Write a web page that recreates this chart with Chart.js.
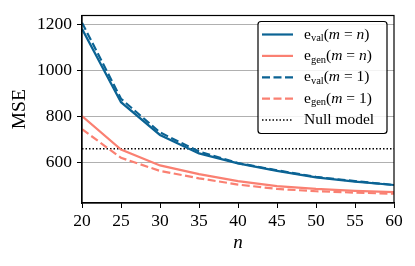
<!DOCTYPE html>
<html>
<head>
<meta charset="utf-8">
<script src="https://cdn.jsdelivr.net/npm/chart.js@4"></script>
<style>
  html, body { margin: 0; padding: 0; background: #fff; }
  #wrap { width: 415px; height: 266px; }
</style>
</head>
<body>
<div id="wrap"><canvas id="mseChart" width="415" height="266"></canvas></div>
<script>
// values
const nValues = [20, 25, 30, 35, 40, 45, 50, 55, 60];
const evalFull = [1180, 862, 720, 640, 597, 564, 536, 518, 503];
const egenFull = [802, 657, 588, 550, 520, 498, 486, 478, 472];
const evalOne = [1207, 877, 731, 648, 598, 567, 538, 520, 503];
const egenOne = [745, 621, 564, 532, 505, 486, 476, 470, 465];
const nullModel = 660;

const xTicks = [20, 25, 30, 35, 40, 45, 50, 55, 60];
const yTicks = [600, 800, 1000, 1200];

// legend labels: [text, kind] where kind is '' (roman), 'i' (italic), 's' (subscript)
const legendParts = [
    [['e', ''], ['val', 's'], ['(', ''], ['m', 'i'], [' = ', ''], ['n', 'i'], [')', '']],
    [['e', ''], ['gen', 's'], ['(', ''], ['m', 'i'], [' = ', ''], ['n', 'i'], [')', '']],
    [['e', ''], ['val', 's'], ['(', ''], ['m', 'i'], [' = 1)', '']],
    [['e', ''], ['gen', 's'], ['(', ''], ['m', 'i'], [' = 1)', '']],
    [['Null model', '']]
];

const BLUE = '#0b6394';
const SALMON = '#fa8072';
const SERIF = '"Liberation Serif", "DejaVu Serif", serif';

const pts = (ys) => nValues.map((n, i) => ({ x: n, y: ys[i] }));

const frameAndLegend = {
    id: 'frameAndLegend',
    afterDatasetsDraw(chart) {
        const ctx = chart.ctx;
        const a = chart.chartArea;
        ctx.save();
        // full box round the plot
        ctx.strokeStyle = '#000';
        ctx.lineWidth = 1.2;
        ctx.strokeRect(a.left, a.top, a.right - a.left, a.bottom - a.top);

        // legend
        const w = 129, h = 112;
        const bx = a.right - 7 - w, by = a.top + 6;
        ctx.beginPath();
        ctx.roundRect(bx, by, w, h, 3);
        ctx.fillStyle = 'rgba(255,255,255,0.85)';
        ctx.fill();
        ctx.lineWidth = 1.2;
        ctx.strokeStyle = '#000';
        ctx.stroke();

        chart.data.datasets.forEach((ds, i) => {
            const y = by + 13 + i * 21.4;
            ctx.beginPath();
            ctx.setLineDash(ds.borderDash || []);
            ctx.strokeStyle = ds.borderColor;
            ctx.lineWidth = ds.borderWidth;
            ctx.moveTo(bx + 4, y);
            ctx.lineTo(bx + 35, y);
            ctx.stroke();
            ctx.setLineDash([]);

            let x = bx + 46;
            ctx.fillStyle = '#000';
            ctx.textBaseline = 'middle';
            ctx.textAlign = 'left';
            legendParts[i].forEach(([t, kind]) => {
                if (kind === 's') {
                    ctx.font = '10.5px ' + SERIF;
                    ctx.fillText(t, x, y + 4);
                } else {
                    ctx.font = (kind === 'i' ? 'italic ' : '') + '15.5px ' + SERIF;
                    ctx.fillText(t, x, y);
                }
                x += ctx.measureText(t).width;
            });
        });
        ctx.restore();
    }
};

const ctx = document.getElementById('mseChart').getContext('2d');
new Chart(ctx, {
    type: 'line',
    data: {
        datasets: [
            { label: 'e_val(m = n)', data: pts(evalFull), borderColor: BLUE, borderWidth: 2.2 },
            { label: 'e_gen(m = n)', data: pts(egenFull), borderColor: SALMON, borderWidth: 2.2 },
            { label: 'e_val(m = 1)', data: pts(evalOne), borderColor: BLUE, borderWidth: 2.2, borderDash: [8, 3.5] },
            { label: 'e_gen(m = 1)', data: pts(egenOne), borderColor: SALMON, borderWidth: 2.2, borderDash: [8, 3.5] },
            {
                label: 'Null model',
                data: [{ x: xTicks[0], y: nullModel }, { x: xTicks[xTicks.length - 1], y: nullModel }],
                borderColor: '#000', borderWidth: 1.5, borderDash: [1.5, 2]
            }
        ]
    },
    options: {
        responsive: false,
        animation: false,
        events: [],
        elements: { point: { radius: 0 }, line: { tension: 0, fill: false } },
        layout: { padding: { left: 0, right: 21, top: 12, bottom: 0 } },
        plugins: { legend: { display: false }, tooltip: { enabled: false } },
        scales: {
            x: {
                type: 'linear',
                min: 20,
                max: 60,
                afterBuildTicks: (axis) => { axis.ticks = xTicks.map(v => ({ value: v })); },
                afterFit: (axis) => { axis.height = 63; },
                grid: { drawOnChartArea: false, drawTicks: true, tickLength: 5, tickColor: '#000', tickWidth: 1 },
                border: { display: true, color: '#000', width: 1.2 },
                ticks: {
                    color: '#000', padding: 3, maxRotation: 0,
                    font: { family: SERIF, size: 17.5 },
                    callback: (v) => String(v)
                },
                title: {
                    display: true, text: 'n', color: '#000',
                    font: { family: SERIF, size: 19, style: 'italic' },
                    padding: { top: 0, bottom: 12 }
                }
            },
            y: {
                min: 425,
                max: 1238,
                afterBuildTicks: (axis) => { axis.ticks = yTicks.map(v => ({ value: v })); },
                afterFit: (axis) => { axis.width = 82; },
                grid: { color: '#b0b0b0', lineWidth: 1, drawTicks: true, tickLength: 5, tickColor: '#000', tickWidth: 1 },
                border: { display: true, color: '#000', width: 1.2 },
                ticks: {
                    color: '#000', padding: 5,
                    font: { family: SERIF, size: 17.5 },
                    callback: (v) => String(v)
                },
                title: {
                    display: true, text: 'MSE', color: '#000',
                    font: { family: SERIF, size: 19.5 },
                    padding: { top: 8, bottom: 0 }
                }
            }
        }
    },
    plugins: [frameAndLegend]
});
</script>
</body>
</html>
